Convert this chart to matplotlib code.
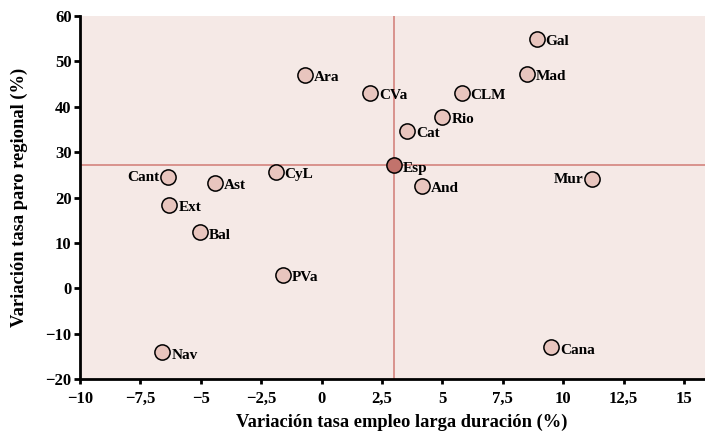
import numpy as np
import matplotlib.pyplot as plt
from matplotlib.ticker import FuncFormatter

# datos: variación empleo larga duración (x) y paro regional (y)
regiones = ["Gal", "Mad", "Ara", "CVa", "CLM", "Rio", "Cat", "And", "Mur",
            "Cant", "Ast", "CyL", "Ext", "Bal", "PVa", "Nav", "Cana"]
x = [8.9, 8.5, -0.7, 2.0, 5.8, 5.0, 3.55, 4.15, 11.2,
     -6.35, -4.4, -1.9, -6.3, -5.05, -1.6, -6.6, 9.5]
y = [55.0, 47.2, 47.0, 43.1, 43.1, 37.8, 34.7, 22.6, 24.0,
     24.5, 23.2, 25.7, 18.4, 12.3, 3.0, -14.1, -13.0]
esp_x, esp_y = 3.0, 27.1

fondo = "#F5E9E6"
relleno = "#E8C5BE"
linea = "#D4837E"

plt.rcParams['font.family'] = ['Liberation Serif', 'DejaVu Serif']
plt.rcParams['font.weight'] = 'bold'

fig = plt.figure(figsize=(7.05, 4.43), dpi=100)
ax = fig.add_axes([80/705, 1 - 379/443, 625/705, 363/443])
ax.set_facecolor(fondo)

ax.axvline(esp_x, color=linea, lw=1.2, zorder=1)
ax.axhline(esp_y, color=linea, lw=1.2, zorder=1)

ax.scatter(x, y, s=120, facecolor=relleno, edgecolor="black", lw=1.1, zorder=3)
ax.scatter([esp_x], [esp_y], s=120, facecolor="#C2736C", edgecolor="black", lw=1.1, zorder=3)

izquierda = ["Cant", "Mur"]
for r, xi, yi in zip(regiones + ["Esp"], x + [esp_x], y + [esp_y]):
    if r in izquierda:
        ax.annotate(r, (xi, yi), xytext=(-6, 0), textcoords="offset points",
                    ha="right", va="center", fontsize=11, fontweight="bold")
    else:
        ax.annotate(r, (xi, yi), xytext=(6.5, -2), textcoords="offset points",
                    ha="left", va="center", fontsize=11, fontweight="bold")

ax.set_xlim(-10, 15.87)
ax.set_ylim(-20, 60)
ax.set_xticks(np.arange(-10, 15.1, 2.5))
ax.set_yticks(np.arange(-20, 61, 10))

def fmt(v, pos):
    s = ("%g" % v).replace(".", ",")
    return s.replace("-", "\u2212")

ax.xaxis.set_major_formatter(FuncFormatter(fmt))
ax.yaxis.set_major_formatter(FuncFormatter(fmt))

for lado in ["top", "right"]:
    ax.spines[lado].set_visible(False)
for lado in ["left", "bottom"]:
    ax.spines[lado].set_linewidth(2)
ax.tick_params(axis="x", width=2, length=3.6, labelsize=12, pad=5)
ax.tick_params(axis="y", width=2, length=4, labelsize=12, pad=2)

ax.set_xlabel("Variación tasa empleo larga duración (%)", fontsize=13.3,
              fontweight="bold")
ax.set_ylabel("Variación tasa paro regional (%)", fontsize=13.3,
              fontweight="bold")
ax.xaxis.set_label_coords(0.515, -0.096)
ax.yaxis.set_label_coords(-0.083, 0.5)

fig.savefig("out.png", dpi=100)
